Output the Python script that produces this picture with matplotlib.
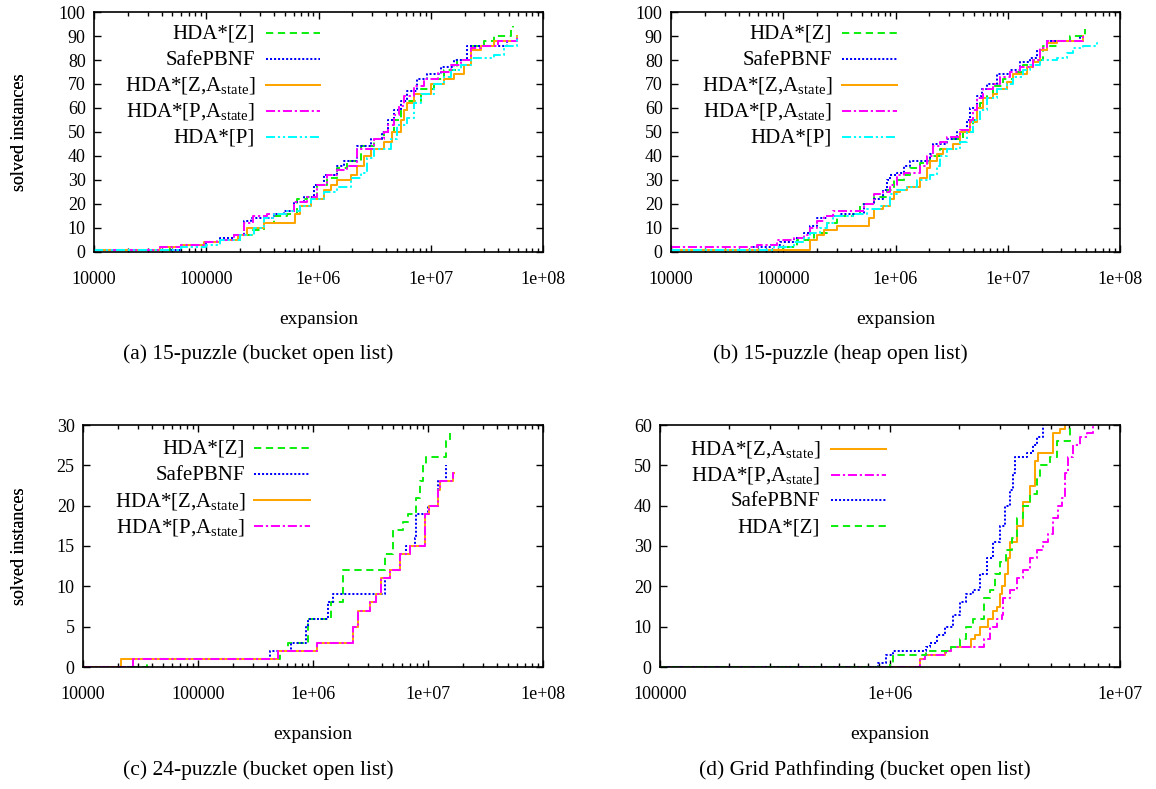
import numpy as np
import matplotlib
matplotlib.use('Agg')
import matplotlib.pyplot as plt
from matplotlib.lines import Line2D
from matplotlib.ticker import LogLocator, NullFormatter

plt.rcParams['font.family'] = ['Liberation Serif', 'DejaVu Serif']
plt.rcParams['mathtext.fontset'] = 'custom'
plt.rcParams['mathtext.rm'] = 'Liberation Serif'
plt.rcParams['mathtext.it'] = 'Liberation Serif:italic'

W, H = 1156, 789

# ---- (a) 15-puzzle, bucket open list ----
a_z_x = [1e4, 4.8e4, 5.9e4, 1.0e5, 1.33e5, 2.0e5, 2.6e5, 3.25e5, 4.0e5, 5.25e5, 6.45e5, 7.9e5,
         9.7e5, 1.2e6, 1.47e6, 1.8e6, 2.37e6, 3.12e6, 3.83e6, 4.7e6, 5.4e6, 6.2e6, 8.15e6,
         1.07e7, 1.32e7, 1.73e7, 2.28e7, 3.0e7, 3.67e7, 5.2e7, 5.35e7]
a_z_y = [1, 2, 3, 4, 5, 7, 9, 12, 15, 16, 22, 23, 28, 31, 35, 38, 44, 47, 50, 55, 59, 63, 68,
         72, 76, 80, 86, 88, 90, 93, 94]
a_pbnf_x = [1e4, 5.9e4, 1.0e5, 1.33e5, 1.75e5, 2.15e5, 2.5e5, 4.0e5, 4.9e5, 6.0e5, 7.4e5, 9.1e5,
            1.12e6, 1.47e6, 1.68e6, 2.2e6, 2.91e6, 3.7e6, 4.2e6, 4.7e6, 5.4e6, 6.2e6, 7.6e6,
            9.3e6, 1.23e7, 1.62e7, 2.12e7, 4.8e7, 5.9e7]
a_pbnf_y = [1, 3, 4, 6, 7, 13, 14, 16, 17, 21, 23, 28, 32, 36, 38, 44, 47, 50, 55, 59, 63, 67,
            72, 74, 77, 80, 86, 88, 90]
a_za_x = [1e4, 3.9e4, 5.9e4, 9.5e4, 1.33e5, 1.9e5, 2.3e5, 3.25e5, 6.2e5, 6.9e5, 8.5e5, 1.12e6,
          1.28e6, 1.47e6, 1.93e6, 2.2e6, 2.54e6, 2.91e6, 3.83e6, 4.55e6, 5.4e6, 5.8e6, 6.2e6,
          7.1e6, 1.0e7, 1.32e7, 1.62e7, 1.99e7, 2.28e7, 2.8e7, 3.67e7, 5.9e7]
a_za_y = [1, 2, 3, 4, 5, 7, 10, 12, 16, 19, 22, 26, 28, 30, 32, 36, 40, 43, 46, 50, 55, 59, 62,
          66, 70, 72, 74, 78, 84, 86, 88, 90]
a_pa_x = [1e4, 3.9e4, 5.9e4, 9.5e4, 1.25e5, 1.75e5, 2.15e5, 2.6e5, 3.5e5, 5.25e5, 6.0e5, 7.9e5,
          9.7e5, 1.2e6, 1.47e6, 1.8e6, 2.2e6, 3.12e6, 3.83e6, 4.2e6, 4.7e6, 5.2e6, 5.78e6,
          7.1e6, 8.7e6, 1.15e7, 1.51e7, 1.85e7, 2.28e7, 2.8e7, 3.94e7, 5.9e7]
a_pa_y = [1, 2, 3, 4, 5, 7, 12, 15, 16, 17, 21, 23, 28, 32, 34, 36, 43, 47, 50, 53, 57, 61, 65,
          69, 72, 75, 78, 80, 85, 86, 88, 90]
a_p_x = [1e4, 5.9e4, 1.0e5, 1.33e5, 2.0e5, 2.65e5, 3.25e5, 4.0e5, 5.25e5, 6.9e5, 8.5e5, 1.12e6,
         1.47e6, 1.93e6, 2.37e6, 2.72e6, 3.12e6, 4.4e6, 5.04e6, 6.2e6, 7.1e6, 8.15e6, 1.07e7,
         1.32e7, 1.51e7, 1.85e7, 2.28e7, 3.67e7, 4.5e7, 5.9e7]
a_p_y = [1, 2, 3, 5, 7, 10, 14, 16, 17, 19, 22, 25, 27, 31, 33, 39, 43, 47, 53, 56, 62, 66, 70,
         73, 76, 78, 81, 82, 86, 90]

# ---- (b) 15-puzzle, heap open list ----
b_z_x = [1e4, 1.0e5, 1.32e5, 1.86e5, 2.45e5, 3.0e5, 4.2e5, 4.85e5, 6.4e5, 8.4e5, 9.6e5, 1.18e6,
         1.35e6, 1.66e6, 2.04e6, 2.5e6, 3.28e6, 4.03e6, 4.95e6, 5.68e6, 6.5e6, 7.45e6, 9.15e6,
         1.12e7, 1.38e7, 1.69e7, 2.08e7, 2.73e7, 3.59e7, 4.88e7]
b_z_y = [1, 2, 5, 8, 12, 15, 16, 20, 23, 26, 30, 32, 35, 37, 40, 43, 47, 50, 55, 62, 65, 69, 72,
         75, 78, 80, 86, 88, 90, 93]
b_pbnf_x = [1e4, 5.4e4, 7.7e4, 9.4e4, 1.24e5, 1.52e5, 1.74e5, 2.0e5, 2.45e5, 3.2e5, 5.2e5,
            6.4e5, 7.8e5, 8.4e5, 9.0e5, 1.03e6, 1.18e6, 1.35e6, 2.04e6, 2.18e6, 2.86e6, 3.52e6,
            4.3e6, 4.6e6, 5.3e6, 5.9e6, 6.5e6, 7.98e6, 1.05e7, 1.29e7, 1.58e7, 1.81e7, 2.22e7,
            4.4e7]
b_pbnf_y = [1, 2, 3, 4, 6, 8, 11, 14, 15, 16, 20, 22, 26, 30, 32, 33, 36, 38, 41, 45, 47, 50,
            55, 60, 65, 68, 70, 74, 76, 79, 81, 84, 88, 90]
b_za_x = [1e4, 1.74e5, 2.0e5, 2.29e5, 3.0e5, 5.75e5, 6.4e5, 7.8e5, 9.0e5, 9.6e5, 1.1e6, 1.26e6,
          1.66e6, 1.9e6, 2.04e6, 2.33e6, 2.67e6, 3.28e6, 3.77e6, 4.6e6, 5.3e6, 6.07e6, 7.45e6,
          7.98e6, 9.8e6, 1.12e7, 1.48e7, 1.69e7, 1.94e7, 2.22e7, 2.73e7, 4.72e7]
b_za_y = [1, 5, 7, 9, 11, 14, 18, 19, 22, 25, 26, 27, 31, 35, 38, 41, 43, 45, 50, 54, 60, 64,
          66, 68, 71, 74, 77, 79, 84, 87, 88, 90]
b_pa_x = [1e4, 5.8e4, 8.8e4, 1.24e5, 1.52e5, 1.74e5, 2.0e5, 2.29e5, 2.8e5, 5.2e5, 6.4e5, 7.8e5,
          9.0e5, 1.03e6, 1.18e6, 1.66e6, 1.9e6, 2.18e6, 2.5e6, 2.86e6, 3.77e6, 4.6e6, 4.95e6,
          5.3e6, 6.07e6, 7.45e6, 8.55e6, 1.05e7, 1.29e7, 1.69e7, 1.94e7, 2.22e7, 4.72e7]
b_pa_y = [2, 3, 5, 6, 7, 10, 13, 15, 17, 20, 24, 25, 28, 32, 33, 36, 40, 44, 46, 48, 51, 55, 59,
          64, 68, 70, 73, 75, 77, 80, 85, 88, 90]
b_p_x = [1e4, 8.2e4, 1.24e5, 1.52e5, 1.74e5, 2.13e5, 2.45e5, 2.8e5, 4.2e5, 5.55e5, 7.3e5, 9.0e5,
         1.03e6, 1.26e6, 1.55e6, 2.04e6, 2.33e6, 2.5e6, 2.86e6, 3.77e6, 4.3e6, 4.95e6, 5.68e6,
         6.5e6, 7.98e6, 9.8e6, 1.12e7, 1.38e7, 1.58e7, 1.94e7, 2.73e7, 3.35e7, 3.85e7, 4.72e7,
         6.2e7, 6.6e7]
b_p_y = [1, 2, 4, 6, 8, 10, 12, 15, 16, 18, 19, 24, 26, 27, 30, 32, 36, 40, 43, 46, 50, 55, 59,
         64, 68, 70, 73, 76, 78, 80, 81, 83, 85, 86, 87, 87]

# ---- (c) 24-puzzle, bucket open list ----
c_z_x = [1e4, 3.6e4, 5.13e5, 6.06e5, 9.05e5, 1.44e6, 1.82e6, 4.2e6, 4.96e6, 6.07e6, 6.7e6,
         7.92e6, 8.5e6, 9.05e6, 9.7e6, 1.44e7, 1.54e7]
c_z_y = [0, 1, 2, 3, 6, 8, 12, 14, 17, 18, 19, 21, 23, 25, 26, 28, 29]
c_pbnf_x = [1e4, 2.72e4, 4.2e5, 6.5e5, 8.75e5, 9.05e5, 1.35e6, 1.49e6, 4.2e6, 4.64e6, 5.67e6,
            6.49e6, 7.66e6, 7.92e6, 1.0e7, 1.22e7, 1.44e7]
c_pbnf_y = [0, 1, 2, 3, 5, 6, 8, 9, 11, 12, 14, 15, 16, 19, 20, 23, 25]
c_za_x = [1e4, 2.13e4, 5.0e5, 1.09e6, 2.23e6, 2.46e6, 3.11e6, 3.56e6, 3.93e6, 4.64e6, 5.67e6,
          6.93e6, 9.36e6, 1.03e7, 1.22e7, 1.26e7, 1.65e7, 1.68e7]
c_za_y = [0, 1, 2, 3, 5, 7, 8, 9, 11, 12, 14, 15, 19, 20, 22, 23, 24, 24]
c_pa_x = [1e4, 2.72e4, 5.0e5, 1.09e6, 2.23e6, 2.46e6, 3.11e6, 3.56e6, 3.93e6, 4.64e6, 5.67e6,
          6.93e6, 9.36e6, 1.03e7, 1.22e7, 1.26e7, 1.65e7, 1.68e7]
c_pa_y = [0, 1, 2, 3, 5, 7, 8, 9, 11, 12, 14, 15, 19, 20, 22, 23, 24, 24]

# ---- (d) grid pathfinding, bucket open list ----
d_za_x = [1e5, 1.35e6, 1.42e6, 1.73e6, 1.85e6, 2.26e6, 2.34e6, 2.46e6, 2.68e6, 2.81e6, 2.91e6,
          3.01e6, 3.06e6, 3.16e6, 3.27e6, 3.32e6, 3.55e6, 3.8e6, 4.06e6, 4.27e6, 4.42e6, 5.13e6,
          5.49e6, 5.77e6]
d_za_y = [0, 2, 3, 4, 5, 7, 8, 10, 12, 14, 15, 18, 20, 23, 27, 31, 35, 41, 45, 51, 53, 58, 59, 60]
d_pa_x = [1e5, 1.35e6, 1.42e6, 1.76e6, 1.85e6, 2.55e6, 2.72e6, 2.91e6, 3.06e6, 3.11e6, 3.32e6,
          3.55e6, 3.8e6, 4.06e6, 4.34e6, 4.64e6, 4.88e6, 5.13e6, 5.4e6, 5.58e6, 5.77e6, 5.96e6,
          6.27e6, 6.7e6, 7.16e6, 7.66e6]
d_pa_y = [0, 2, 3, 4, 5, 7, 10, 12, 13, 17, 19, 22, 24, 27, 29, 31, 33, 37, 40, 42, 48, 52, 55,
          57, 58, 60]
d_pbnf_x = [1e5, 8.9e5, 9.6e5, 1.03e6, 1.44e6, 1.49e6, 1.6e6, 1.73e6, 1.88e6, 2.02e6, 2.15e6,
            2.3e6, 2.46e6, 2.63e6, 2.81e6, 3.01e6, 3.16e6, 3.32e6, 3.44e6, 3.49e6, 3.93e6, 4.2e6,
            4.34e6, 4.64e6]
d_pbnf_y = [0, 1, 3, 4, 5, 6, 8, 10, 13, 16, 18, 19, 23, 27, 31, 35, 40, 44, 48, 52, 53, 55, 57, 60]
d_z_x = [1e5, 1.0e6, 1.03e6, 1.44e6, 1.85e6, 2.02e6, 2.15e6, 2.3e6, 2.55e6, 2.72e6, 2.86e6,
         3.01e6, 3.21e6, 3.38e6, 3.55e6, 3.8e6, 4.06e6, 4.34e6, 4.49e6, 4.96e6, 5.31e6, 6.06e6,
         6.16e6]
d_z_y = [0, 1, 3, 4, 5, 7, 10, 12, 17, 19, 23, 26, 29, 32, 37, 40, 43, 47, 50, 52, 56, 59, 60]

LABELS = {
    'Z': 'HDA*[Z]',
    'PBNF': 'SafePBNF',
    'ZA': r'HDA*[Z,$\mathrm{A}_{\mathrm{state}}$]',
    'PA': r'HDA*[P,$\mathrm{A}_{\mathrm{state}}$]',
    'P': 'HDA*[P]',
}
STYLE = {
    'Z': dict(color='#11ee11', dashes=(3.6, 2.3)),
    'PBNF': dict(color='#0000ff', dashes=(1.0, 1.0)),
    'ZA': dict(color='#ffa500', ls='-'),
    'PA': dict(color='#ff00ff', dashes=(4.5, 1.4, 1.1, 1.4)),
    'P': dict(color='#00ffff', dashes=(4.5, 1.4, 1.1, 1.4, 1.1, 1.4)),
}
LW = 1.45

fig = plt.figure(figsize=(W / 100, H / 100), dpi=100)


def add_panel(box, xlim, ymax, ystep, xticks, xticklabels):
    l, t, r, b = box
    ax = fig.add_axes([l / W, 1 - b / H, (r - l) / W, (b - t) / H])
    ax.set_xscale('log')
    ax.set_xlim(*xlim)
    ax.set_ylim(0, ymax)
    ax.set_xticks(xticks, xticklabels)
    ax.xaxis.set_minor_locator(LogLocator(base=10, subs=range(2, 10), numticks=50))
    ax.xaxis.set_minor_formatter(NullFormatter())
    ax.set_yticks(np.arange(0, ymax + 1, ystep))
    ax.tick_params(which='both', direction='in', top=True, right=True, width=1.0,
                   labelsize=13, colors='black')
    ax.tick_params(which='major', length=5)
    ax.tick_params(which='minor', length=2.8)
    ax.tick_params(axis='x', pad=14)
    ax.tick_params(axis='y', pad=6)
    for s in ax.spines.values():
        s.set_linewidth(1.2)
    ax.set_xlabel('expansion', fontsize=14, labelpad=16)
    ax.set_ylabel('solved instances', fontsize=13)
    ax.yaxis.set_label_coords((28 - l) / (r - l), 0.5)
    return ax


def draw(ax, series):
    for key, xs, ys in series:
        ax.plot(xs, ys, drawstyle='steps-post', lw=LW, **STYLE[key])


def legend(keys, text_right, x0, x1, y0, dy):
    for i, key in enumerate(keys):
        y = y0 + i * dy
        fig.text(text_right / W, 1 - (y + 6) / H, LABELS[key], ha='right', va='baseline',
                 fontsize=15)
        fig.add_artist(Line2D([x0 / W, x1 / W], [1 - y / H, 1 - y / H], lw=LW,
                              transform=fig.transFigure, **STYLE[key]))


big_ticks = [1e4, 1e5, 1e6, 1e7, 1e8]
big_labels = ['10000', '100000', '1e+06', '1e+07', '1e+08']

ax_a = add_panel((94, 12, 543, 252), (1e4, 1e8), 100, 10, big_ticks, big_labels)
draw(ax_a, [('Z', a_z_x, a_z_y), ('PBNF', a_pbnf_x, a_pbnf_y), ('ZA', a_za_x, a_za_y),
            ('PA', a_pa_x, a_pa_y), ('P', a_p_x, a_p_y)])
legend(['Z', 'PBNF', 'ZA', 'PA', 'P'], 255, 266, 320, 33, 26)

ax_b = add_panel((671, 12, 1120, 252), (1e4, 1e8), 100, 10, big_ticks, big_labels)
draw(ax_b, [('Z', b_z_x, b_z_y), ('PBNF', b_pbnf_x, b_pbnf_y), ('ZA', b_za_x, b_za_y),
            ('PA', b_pa_x, b_pa_y), ('P', b_p_x, b_p_y)])
legend(['Z', 'PBNF', 'ZA', 'PA', 'P'], 832, 842, 897, 33, 26)

ax_c = add_panel((83, 425, 543, 667), (1e4, 1e8), 30, 5, big_ticks, big_labels)
draw(ax_c, [('Z', c_z_x, c_z_y), ('PBNF', c_pbnf_x, c_pbnf_y), ('ZA', c_za_x, c_za_y),
            ('PA', c_pa_x, c_pa_y)])
legend(['Z', 'PBNF', 'ZA', 'PA'], 245, 254, 310, 448, 26)

ax_d = add_panel((660, 425, 1120, 667), (1e5, 1e7), 60, 10, [1e5, 1e6, 1e7],
                 ['100000', '1e+06', '1e+07'])
draw(ax_d, [('ZA', d_za_x, d_za_y), ('PA', d_pa_x, d_pa_y), ('PBNF', d_pbnf_x, d_pbnf_y),
            ('Z', d_z_x, d_z_y)])
legend(['ZA', 'PA', 'PBNF', 'Z'], 820, 831, 886, 449, 25.7)

captions = [
    (258, 354, '(a) 15-puzzle (bucket open list)'),
    (840, 354, '(b) 15-puzzle (heap open list)'),
    (258, 770, '(c) 24-puzzle (bucket open list)'),
    (865, 770, '(d) Grid Pathfinding (bucket open list)'),
]
for cx, cy, txt in captions:
    fig.text(cx / W, 1 - cy / H, txt, ha='center', va='center', fontsize=15.5)

fig.savefig('out.png', dpi=100)
